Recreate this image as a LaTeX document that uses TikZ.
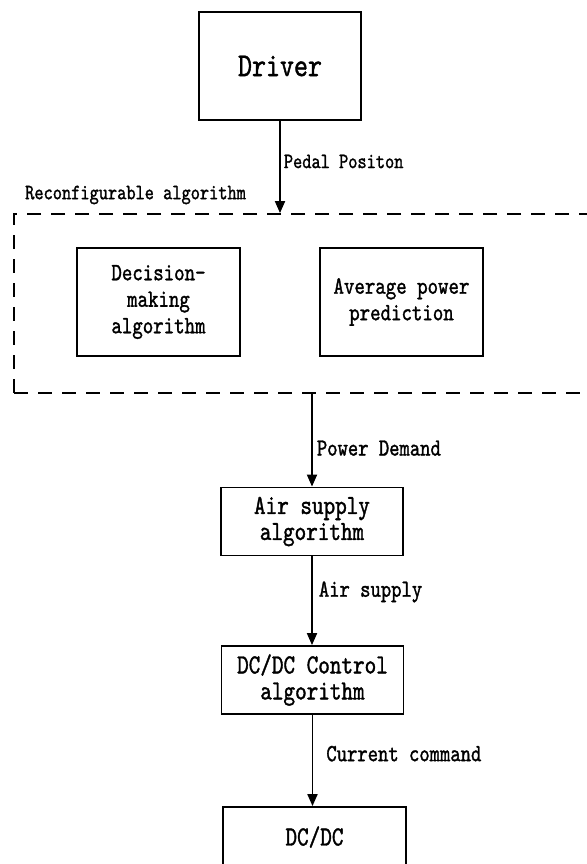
\documentclass[tikz,border=0pt]{standalone}
\usepackage{fontspec}
\usetikzlibrary{arrows.meta}
\newfontfamily\simfont{lmmono10-regular.otf}[FakeStretch=0.8,FakeBold=1.3]
\begin{document}
\begin{tikzpicture}[x=1pt,y=-1pt,
  box/.style={draw,line width=1.8pt,align=center,inner sep=0pt},
  arr/.style={line width=1.8pt,-{Triangle[length=12pt,width=10pt]}},
  lbl/.style={anchor=west,inner sep=0pt,font=\simfont\fontsize{21.9}{24}\selectfont},
  lblb/.style={anchor=west,inner sep=0pt,font=\simfont\fontsize{24.6}{26}\selectfont},
  inbox/.style={box,minimum width=163pt,minimum height=108pt,font=\simfont\fontsize{24.9}{26.5}\selectfont},
  algbox/.style={box,minimum width=182pt,minimum height=68pt,font=\simfont\fontsize{27.6}{26}\selectfont}]
\useasboundingbox (0,0) rectangle (586,864);
\node[box,minimum width=162pt,minimum height=108pt,font=\simfont\fontsize{33.3}{36}\selectfont] (driver) at (280,66) {Driver};
\node[draw,line width=1.8pt,dash pattern=on 14pt off 10pt,minimum width=620pt,minimum height=179pt,inner sep=0pt] (recon) at (324,303.5) {};
\node[lbl] (reconlbl) at (25,195) {Reconfigurable algorithm};
\node[inbox] (dec) at (158.5,302) {Decision-\\making\\algorithm};
\node[inbox] (avg) at (401.5,302) {Average power\\prediction};
\node[algbox] (air) at (312,521.5) {Air supply\\algorithm};
\node[algbox] (dcc) at (312.5,680) {DC/DC Control\\algorithm};
\node[box,minimum width=183pt,minimum height=60pt,font=\simfont\fontsize{27.6}{26}\selectfont] (dcdc) at (314.5,837) {DC/DC};
\draw[arr] (driver.south) -- node[lbl,pos=0.44,xshift=3pt] {Pedal Positon} (driver.south |- recon.north);
\draw[arr] (air.north |- recon.south) -- node[lblb,pos=0.585,xshift=4pt] {Power Demand} (air.north);
\draw[arr] (air.south) -- node[lblb,pos=0.4,xshift=6pt] {Air supply} (air.south |- dcc.north);
\draw[arr] (dcc.south) -- node[lblb,pos=0.425,xshift=13pt] {Current command} (dcc.south |- dcdc.north);
\end{tikzpicture}
\end{document}
